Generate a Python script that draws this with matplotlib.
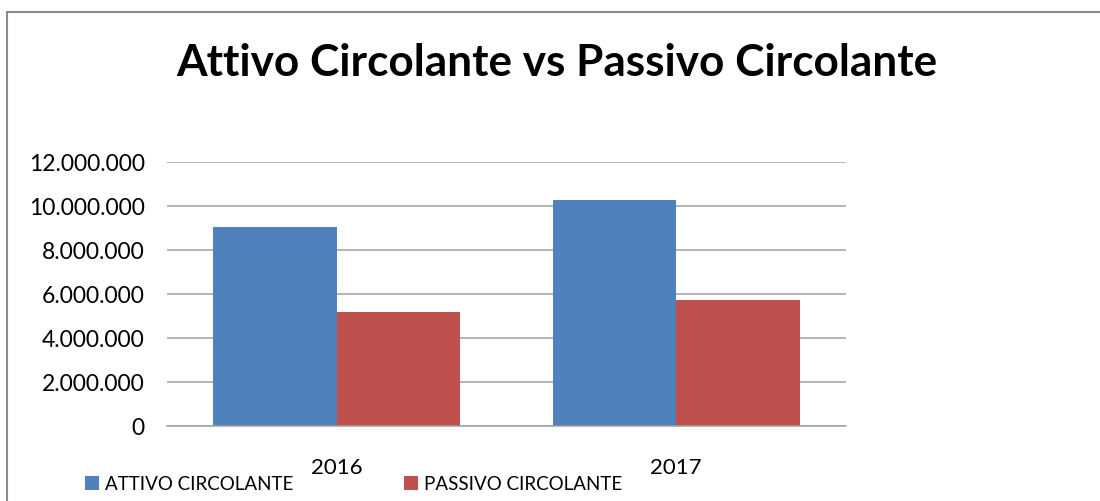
import matplotlib
matplotlib.use("Agg")
import matplotlib.pyplot as plt
from matplotlib.patches import Rectangle, Patch
from matplotlib.ticker import FuncFormatter
import numpy as np

plt.rcParams['font.family'] = ['Lato', 'DejaVu Sans']

title = "Attivo Circolante vs Passivo Circolante"
categories = ['2016', '2017']
series_names = ['ATTIVO CIRCOLANTE', 'PASSIVO CIRCOLANTE']
attivo = [9050000, 10270000]
passivo = [5180000, 5730000]
yticks = [0, 2000000, 4000000, 6000000, 8000000, 10000000, 12000000]

BLUE = '#4F81BD'
RED = '#C0504D'
GRID = '#A0A0A0'

W, H = 1100, 502
fig = plt.figure(figsize=(W / 100, H / 100), dpi=100)

def fx(px):
    return px / W

def fy(py):
    return 1 - py / H

ax = fig.add_axes([fx(167), fy(427), fx(846) - fx(167), fy(163) - fy(427)])

x = np.arange(len(categories))
bw = 0.364
ax.bar(x - bw / 2, attivo, width=bw, color=BLUE, zorder=3)
ax.bar(x + bw / 2, passivo, width=bw, color=RED, zorder=3)

ax.set_xlim(-0.5, len(categories) - 0.5)
ax.set_ylim(0, 12000000)
ax.set_yticks(yticks)
ax.yaxis.set_major_formatter(FuncFormatter(lambda v, p: f"{int(v):,}".replace(',', '.')))
ax.set_xticks(x)
ax.set_xticklabels(categories)
ax.tick_params(axis='y', length=0, pad=16, labelsize=16.5, colors='black')
ax.tick_params(axis='x', length=0, pad=22, labelsize=16, colors='black')
ax.grid(axis='y', color=GRID, linewidth=1.1, zorder=0)
for s in ['top', 'right', 'left']:
    ax.spines[s].set_visible(False)
ax.spines['bottom'].set_color(GRID)
ax.spines['bottom'].set_linewidth(1.1)
ax.spines['bottom'].set_zorder(4)

fig.text(fx(557), fy(76), title, ha='center', va='baseline',
         fontsize=31.8, fontweight='bold', color='black')

# outer chart border (cropped at right and bottom)
border = Rectangle((fx(7), fy(H + 20)), fx(W + 20) - fx(7), fy(12.7) - fy(H + 20),
                   transform=fig.transFigure, fill=False, edgecolor='#8C8C8C',
                   linewidth=1.5, clip_on=False)
fig.patches.append(border)

# legend entries
for name, col, xpx in [(series_names[0], BLUE, 85), (series_names[1], RED, 404)]:
    fig.legend(handles=[Patch(facecolor=col, edgecolor='none', label=name)],
               loc='center left', bbox_to_anchor=(fx(xpx), fy(485)),
               frameon=False, borderpad=0, borderaxespad=0,
               handlelength=0.72, handleheight=0.72, handletextpad=0.35,
               fontsize=13.5)

fig.savefig('out.png', dpi=100)
